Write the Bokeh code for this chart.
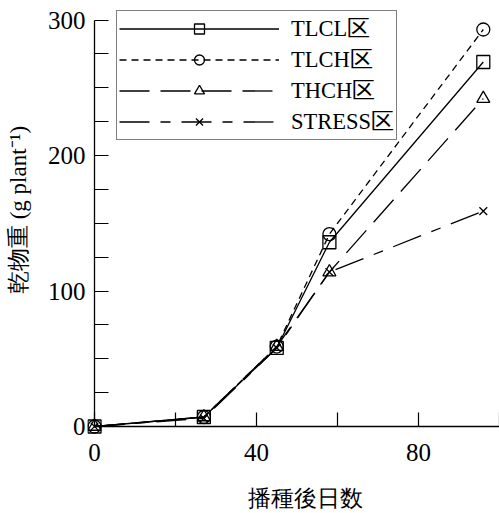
from bokeh.plotting import figure
from bokeh.models import Range1d, FixedTicker, Legend, LegendItem, LinearAxis
from bokeh.embed import file_html
from bokeh.resources import INLINE

days = [0, 27, 45, 58, 96]
tlcl = [0, 7, 58, 136, 269]
tlch = [0, 7, 59, 142, 293]
thch = [0, 7, 59, 114, 242]
stress = [0, 6, 58, 114, 159]
names = ["TLCL区", "TLCH区", "THCH区", "STRESS区"]
x_ticks = [0, 40, 80]
x_all_ticks = [0, 20, 40, 60, 80, 100]
y_ticks = [0, 100, 200, 300]
y_all_ticks = [0, 25, 50, 75, 100, 125, 150, 175, 200, 225, 250, 275, 300]

p = figure(width=499, height=513, output_backend="svg", toolbar_location=None,
           x_range=Range1d(-1.73, 100), y_range=Range1d(-5.9, 308.5),
           min_border_left=87, min_border_top=8, min_border_right=0, min_border_bottom=79)
p.outline_line_color = None
p.xgrid.visible = False
p.ygrid.visible = False
p.background_fill_color = "white"

series = [tlcl, tlch, thch, stress]
dashes = ["solid", "7 5", "30 11", "30 11 10 11"]
markers = ["square", "circle", "triangle", "x"]
msizes = [13, 13, 13, 11]
items = []
for ys, d, m, ms, nm in zip(series, dashes, markers, msizes, names):
    r1 = p.line(days, ys, line_color="black", line_width=1.3, line_dash=d)
    r2 = p.scatter(days, ys, marker=m, size=ms, line_color="black", line_width=1.3,
                   fill_alpha=0)
    items.append(LegendItem(label=nm, renderers=[r1, r2]))

leg = Legend(items=items, location=(29, 294), padding=2, spacing=0,
             label_height=25, glyph_height=25, glyph_width=160, label_standoff=12,
             label_text_font="Liberation Serif", label_text_font_size="22.5px",
             label_text_color="black",
             border_line_color="black", border_line_width=1.2,
             background_fill_alpha=1)
p.add_layout(leg)

# label-only axes in the side panels
for ax in (p.xaxis[0], p.yaxis[0]):
    ax.axis_line_color = None
    ax.major_tick_line_color = None
    ax.minor_tick_line_color = None
    ax.major_tick_in = 0
    ax.major_tick_out = 0
    ax.minor_tick_in = 0
    ax.minor_tick_out = 0
    ax.major_label_text_font = "Liberation Serif"
    ax.major_label_text_font_size = "25px"
    ax.major_label_text_color = "black"
    ax.axis_label_text_color = "black"
    ax.axis_label_text_font_style = "normal"

p.xaxis.ticker = FixedTicker(ticks=x_ticks)
p.yaxis.ticker = FixedTicker(ticks=y_ticks)
p.xaxis.major_label_standoff = 9
p.yaxis.major_label_standoff = 2

p.xaxis.axis_label = "\u3000播種後日数"
p.xaxis.axis_label_text_font = "Liberation Sans"
p.xaxis.axis_label_text_font_size = "23px"
p.xaxis.axis_label_standoff = 21

p.yaxis.axis_label = "\u3000乾物重 (g plant⁻¹)"
p.yaxis.axis_label_text_font = "Liberation Serif"
p.yaxis.axis_label_text_font_size = "23px"
p.yaxis.axis_label_standoff = 14

# axis lines and inward ticks through the origin (ticks only, no labels)
def line_axis(all_ticks, bounds):
    ax = LinearAxis(fixed_location=0, bounds=bounds,
                    ticker=FixedTicker(ticks=[], minor_ticks=all_ticks))
    ax.axis_line_color = "black"
    ax.axis_line_width = 1.3
    ax.major_tick_line_color = "black"
    ax.minor_tick_line_color = "black"
    ax.minor_tick_line_width = 1.2
    ax.major_tick_in = 14
    ax.major_tick_out = 0
    ax.minor_tick_in = 14
    ax.minor_tick_out = 0
    ax.major_label_standoff = 0
    return ax

p.add_layout(line_axis(x_all_ticks, (0, 100)), "below")
p.add_layout(line_axis(y_all_ticks, (0, 300)), "left")

open("out.html", "w").write(file_html(p, INLINE))
